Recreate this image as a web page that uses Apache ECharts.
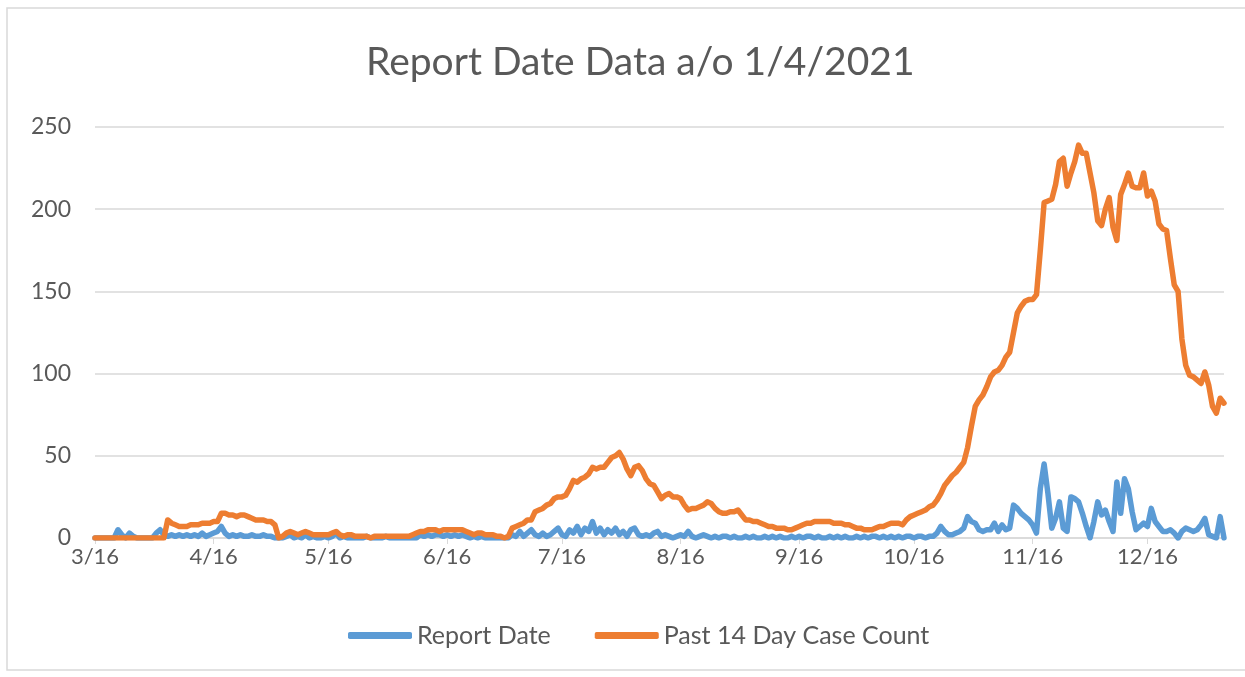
<!DOCTYPE html>
<html>
<head>
<meta charset="utf-8">
<script src="https://cdn.jsdelivr.net/npm/echarts@6/dist/echarts.min.js"></script>
<style>
  html, body { margin: 0; padding: 0; background: #fff; }
  #chart { width: 1245px; height: 677px; }
</style>
</head>
<body>
<div id="chart"></div>
<script>
// daily dates 3/16/2020 .. 1/5/2021 (296 days)
const startDate = new Date(2020, 2, 16);
const dayCount = 296;
const dates = [];
for (let i = 0; i < dayCount; i++) {
    const d = new Date(startDate.getFullYear(), startDate.getMonth(), startDate.getDate() + i);
    dates.push((d.getMonth() + 1) + "/" + d.getDate());
}

const yTicks = [0, 50, 100, 150, 200, 250];

// Report Date (daily count)
const reportDate = [
    0,0,0,0,0,0,5,2,0,3,1,0,0,0,0,0,3,5,2,
    1,2,1,2,1,2,1,2,1,3,1,2,3,4,7,3,1,2,1,2,1,1,2,1,1,2,1,1,0,
    0,0,1,2,0,1,0,2,0,1,0,0,1,0,1,3,0,1,0,0,0,
    0,0,1,0,0,0,0,1,0,0,0,0,0,
    0,0,0,2,1,2,1,2,2,1,2,1,2,1,2,1,0,1,0,1,0,0,0,0,0,0,0,
    2,1,4,1,3,5,2,1,3,1,2,4,6,2,1,5,3,7,2,6,4,10,3,6,2,5,3,6,2,4,1,5,6,2,1,2,1,3,4,1,2,1,0,1,2,1,4,1,0,1,2,1,
    0,1,0,1,1,0,1,0,0,1,0,1,0,0,1,0,1,0,1,0,0,1,0,1,0,1,1,0,1,0,0,1,0,1,0,1,0,0,1,0,1,0,1,1,0,1,0,1,0,1,0,
    1,1,0,1,1,0,1,1,3,7,4,2,2,3,4,6,13,10,9,5,4,5,5,9,4,8,5,6,20,18,15,13,11,8,3,
    30,45,27,6,12,22,6,4,25,24,22,15,7,0,10,22,14,17,10,4,34,15,36,30,16,
    5,7,9,7,18,10,7,4,4,5,3,0,4,6,5,4,5,8,12,2,1,0,13,0
];

// Past 14 Day Case Count
const past14Day = [
    0,0,0,0,0,0,0,0,0,0,0,0,0,0,0,0,0,0,0,
    11,9,8,7,7,7,8,8,8,9,9,9,10,10,15,15,14,14,13,14,14,13,12,11,11,11,10,10,8,
    0,1,3,4,3,2,3,4,3,2,2,2,2,2,3,4,2,1,2,2,1,
    1,1,1,0,1,1,1,1,1,1,1,1,1,
    1,2,3,4,4,5,5,5,4,5,5,5,5,5,5,4,3,2,3,3,2,2,2,1,1,0,1,
    6,7,8,9,11,11,16,17,18,20,21,24,25,25,26,30,35,34,36,37,39,43,42,43,43,46,49,50,52,48,42,38,43,44,41,36,33,32,28,24,26,27,25,25,24,20,17,18,18,19,20,22,
    21,18,16,15,15,16,16,17,14,11,11,10,10,9,8,7,7,6,6,6,5,5,6,7,8,9,9,10,10,10,10,10,9,9,9,8,8,7,6,6,5,5,5,6,7,7,8,9,9,9,8,
    11,13,14,15,16,17,19,20,23,27,32,35,38,40,43,46,55,68,80,84,87,92,98,101,102,105,110,113,125,137,141,144,145,145,148,
    175,204,205,206,215,229,231,214,222,229,239,234,234,222,210,193,190,200,207,189,181,209,215,222,214,213,213,222,208,211,
    205,191,188,187,170,154,150,121,105,99,98,96,94,101,93,80,76,85,82
];

const textColor = "#595959";
const fontFamily = "Lato, 'Noto Sans', sans-serif";
const isMonthTick = (index) => dates[index].endsWith("/16");

const chart = echarts.init(document.getElementById("chart"));
const option = {
    animation: false,
    backgroundColor: "#fff",
    textStyle: { fontFamily: fontFamily },
    graphic: [{
        type: "rect",
        shape: { x: 7, y: 8, width: 1250, height: 662 },
        style: { fill: null, stroke: "#d9d9d9", lineWidth: 1.5 },
        silent: true
    }],
    title: {
        text: "Report Date Data a/o 1/4/2021",
        left: 361,
        top: 38,
        textStyle: { color: textColor, fontSize: 39, fontWeight: "normal", fontFamily: fontFamily }
    },
    legend: {
        bottom: 24,
        left: 343,
        itemWidth: 64,
        itemHeight: 7,
        itemGap: 44,
        icon: "roundRect",
        textStyle: { color: textColor, fontSize: 25 },
        data: ["Report Date", "Past 14 Day Case Count"]
    },
    grid: { left: 95, right: 21, top: 127, bottom: 139 },
    xAxis: {
        type: "category",
        data: dates,
        boundaryGap: false,
        axisLine: { lineStyle: { color: "#d9d9d9", width: 1.5 } },
        axisTick: { interval: isMonthTick, length: 6, lineStyle: { color: "#d9d9d9" } },
        axisLabel: { interval: isMonthTick, color: textColor, fontSize: 22, margin: 8 }
    },
    yAxis: {
        type: "value",
        min: yTicks[0],
        max: yTicks[yTicks.length - 1],
        interval: 50,
        axisLine: { show: false },
        axisTick: { show: false },
        axisLabel: { color: textColor, fontSize: 23, margin: 24 },
        splitLine: { lineStyle: { color: "#d9d9d9", width: 1.5 } }
    },
    series: [
        {
            name: "Report Date",
            type: "line",
            data: reportDate,
            showSymbol: false,
            lineStyle: { color: "#5b9bd5", width: 5.5, join: "round", cap: "round" },
            itemStyle: { color: "#5b9bd5" }
        },
        {
            name: "Past 14 Day Case Count",
            type: "line",
            data: past14Day,
            showSymbol: false,
            lineStyle: { color: "#ed7d31", width: 5.5, join: "round", cap: "round" },
            itemStyle: { color: "#ed7d31" }
        }
    ]
};
chart.setOption(option);
</script>
</body>
</html>
